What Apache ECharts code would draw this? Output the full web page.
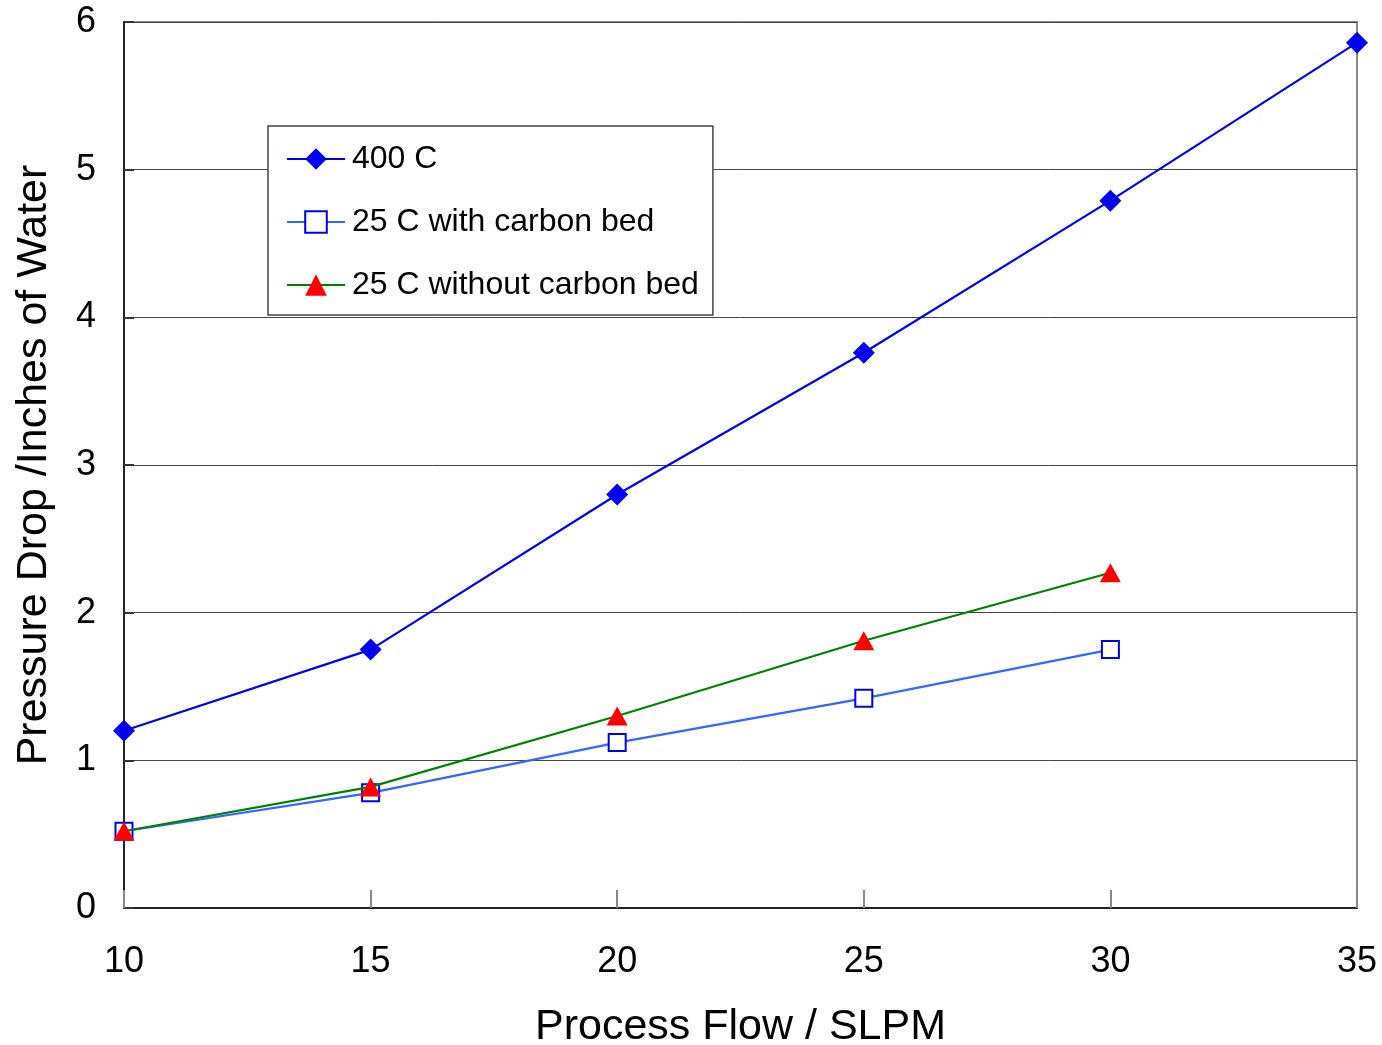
<!DOCTYPE html>
<html><head><meta charset="utf-8">
<script src="https://cdn.jsdelivr.net/npm/echarts@6/dist/echarts.min.js"></script>
<style>html,body{margin:0;padding:0;background:#fff}#c{width:1382px;height:1045px}</style>
</head><body><div id="c"></div>
<script>
const flow = [10, 15, 20, 25, 30, 35];
const s400C = [1.20, 1.75, 2.80, 3.76, 4.79, 5.86];
const s25With = [0.52, 0.78, 1.12, 1.42, 1.75];
const s25Without = [0.52, 0.82, 1.30, 1.81, 2.27];
const names = ['400 C', '25 C with carbon bed', '25 C without carbon bed'];

const pair = (xs, ys) => ys.map((v, i) => [xs[i], v]);
const F = 'Liberation Sans, Arial, sans-serif';
const chart = echarts.init(document.getElementById('c'));
chart.setOption({
  animation: false,
  grid: {left: 124, right: 25, top: 22, bottom: 137, outerBoundsMode: 'none', containLabel: false,
         show: true, borderColor: '#8a8a8a', borderWidth: 2, backgroundColor: 'transparent'},
  legend: {
    left: 268, top: 126, orient: 'vertical',
    padding: [17, 14, 14, 18],
    itemWidth: 58, itemHeight: 27, itemGap: 31,
    backgroundColor: '#fff', borderColor: '#444', borderWidth: 1.5,
    textStyle: {fontFamily: F, fontSize: 32, color: '#000', padding: [0, 0, 0, 2]},
    data: names
  },
  xAxis: {
    type: 'value', min: 10, max: 35, interval: 5,
    name: 'Process Flow / SLPM', nameLocation: 'middle', nameGap: 98,
    nameTextStyle: {fontFamily: F, fontSize: 43, color: '#000'},
    axisLine: {lineStyle: {color: '#222', width: 2}},
    axisTick: {inside: true, length: 18, lineStyle: {color: '#888', width: 2}},
    axisLabel: {fontFamily: F, fontSize: 36, color: '#000', margin: 36},
    splitLine: {show: false}
  },
  yAxis: {
    type: 'value', min: 0, max: 6, interval: 1,
    name: 'Pressure Drop /Inches of Water', nameLocation: 'middle', nameGap: 68,
    nameTextStyle: {fontFamily: F, fontSize: 43, color: '#000'},
    axisLine: {show: true, lineStyle: {color: '#222', width: 2}},
    axisTick: {show: true, inside: true, length: 10, lineStyle: {color: '#333', width: 2}},
    axisLabel: {fontFamily: F, fontSize: 36, color: '#000', margin: 28},
    splitLine: {show: true, lineStyle: {color: '#444', width: 1}}
  },
  series: [
    {name: names[0], type: 'line', data: pair(flow, s400C), symbol: 'diamond', symbolSize: [22, 22],
     lineStyle: {color: '#0000ee', width: 2.2}, itemStyle: {color: '#0000ee'}, z: 3},
    {name: names[1], type: 'line', data: pair(flow, s25With), symbol: 'rect', symbolSize: 17,
     lineStyle: {color: '#3366ff', width: 2.2}, itemStyle: {color: '#fff', borderColor: '#0000ee', borderWidth: 2}, z: 2},
    {name: names[2], type: 'line', data: pair(flow, s25Without), symbol: 'triangle', symbolSize: [21, 19],
     lineStyle: {color: '#008000', width: 2.2}, itemStyle: {color: '#ff0000'}, z: 4}
  ]
});
</script></body></html>
